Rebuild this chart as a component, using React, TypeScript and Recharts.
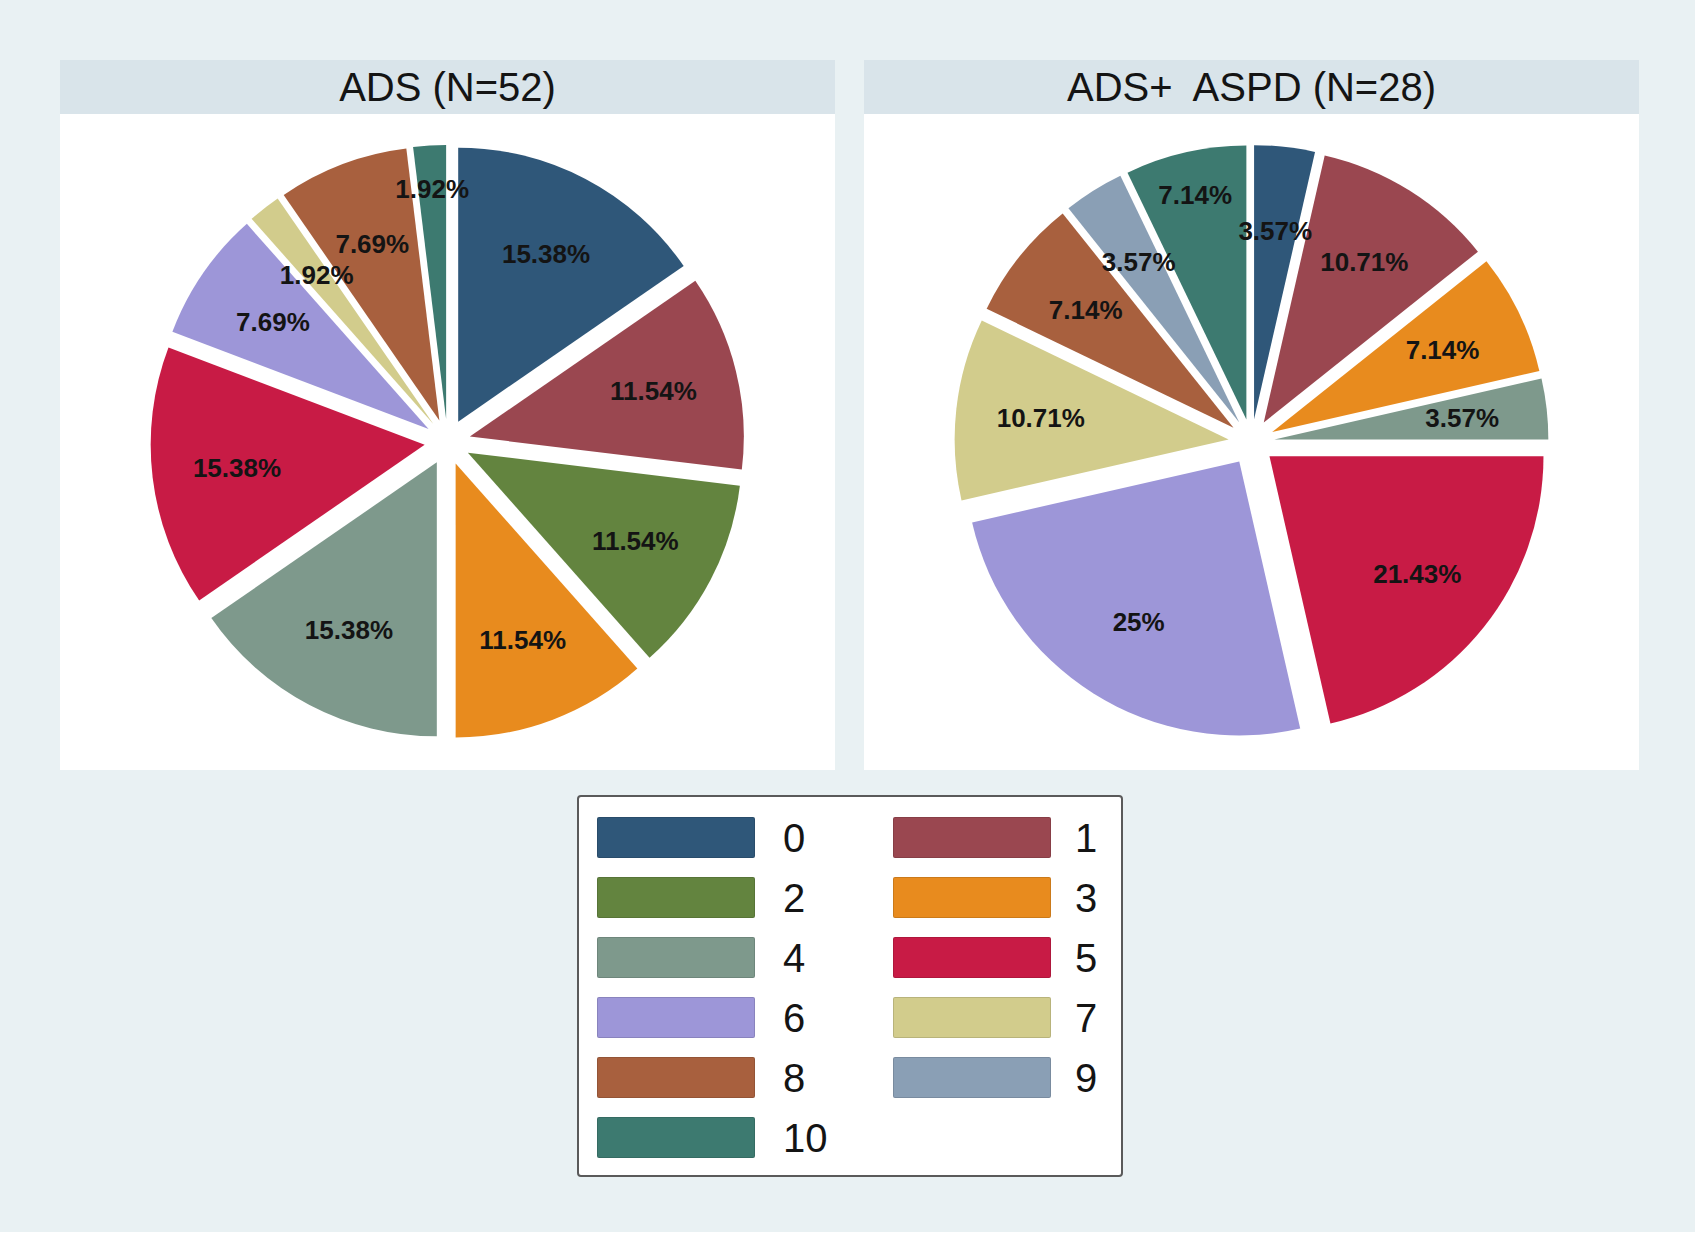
import { Pie, PieChart, Sector } from 'recharts';

const categories = ['0', '1', '2', '3', '4', '5', '6', '7', '8', '9', '10'];
const sliceColors = [
  '#2f5779',
  '#9a4750',
  '#63843f',
  '#e88b1e',
  '#7e998c',
  '#c81b45',
  '#9d96d8',
  '#d2cc8c',
  '#a8603e',
  '#8a9fb5',
  '#3d7a70',
];

const adsCounts = [8, 6, 6, 6, 8, 8, 4, 1, 4, 0, 1];
const adsAspdCounts = [1, 3, 0, 2, 1, 6, 7, 3, 2, 1, 2];

const panelTitles = ['ADS (N=52)', 'ADS+  ASPD (N=28)'];

const RADIAN = Math.PI / 180;
const EXPLODE = 23;
const RADIUS = 274;

const palette = {
  page: '#e9f1f3',
  header: '#d9e4ea',
  plot: '#ffffff',
  text: '#141414',
  legendBorder: '#5a5a5a',
};

const buildSlices = (counts: number[]) => {
  const total = counts.reduce((sum, n) => sum + n, 0);
  return counts
    .map((count, i) => ({
      name: categories[i],
      value: count,
      fill: sliceColors[i],
      pct: `${parseFloat(((count / total) * 100).toFixed(2))}%`,
    }))
    .filter((d) => d.value > 0);
};

const explodedSlice = (props: any) => {
  const { cx, cy, midAngle } = props;
  const dx = EXPLODE * Math.cos(-midAngle * RADIAN);
  const dy = EXPLODE * Math.sin(-midAngle * RADIAN);
  return <Sector {...props} cx={cx + dx} cy={cy + dy} stroke="none" />;
};

const makePctLabel = (lastIndex: number) => (props: any) => {
  const { cx, cy, midAngle, outerRadius, payload, index } = props;
  // the closing slice gets its label pushed further out, like the original
  const r = EXPLODE + outerRadius * (index === lastIndex ? 0.84 : 0.69);
  const x = cx + r * Math.cos(-midAngle * RADIAN);
  const y = cy + r * Math.sin(-midAngle * RADIAN);
  return (
    <text
      x={x}
      y={y}
      fill={palette.text}
      fontSize={26}
      fontWeight="bold"
      fontFamily="'Liberation Sans', Arial, sans-serif"
      textAnchor="middle"
      dominantBaseline="central"
    >
      {payload.pct}
    </text>
  );
};

function PiePanel({ title, counts, left }: { title: string; counts: number[]; left: number }) {
  const slices = buildSlices(counts);

  return (
    <div style={{ position: 'absolute', left, top: 60, width: 775 }}>
      <div
        style={{
          height: 54,
          background: palette.header,
          display: 'flex',
          alignItems: 'center',
          justifyContent: 'center',
          fontSize: 40,
          whiteSpace: 'pre',
          color: palette.text,
        }}
      >
        {title}
      </div>
      <div style={{ background: palette.plot, height: 656 }}>
        <PieChart width={775} height={656} margin={{ top: 0, right: 0, bottom: 0, left: 0 }}>
          <Pie
            data={slices}
            dataKey="value"
            nameKey="name"
            cx="50%"
            cy="50%"
            outerRadius={RADIUS}
            startAngle={90}
            endAngle={-270}
            stroke="none"
            shape={explodedSlice}
            label={makePctLabel(slices.length - 1)}
            labelLine={false}
            isAnimationActive={false}
          />
        </PieChart>
      </div>
    </div>
  );
}

function LegendBox() {
  return (
    <div
      style={{
        position: 'absolute',
        left: 577,
        top: 795,
        width: 546,
        height: 382,
        boxSizing: 'border-box',
        background: '#ffffff',
        border: `2px solid ${palette.legendBorder}`,
        borderRadius: 4,
      }}
    >
      {categories.map((cat, i) => {
        const col = i % 2;
        const row = Math.floor(i / 2);
        return (
          <div
            key={cat}
            style={{
              position: 'absolute',
              left: col === 0 ? 18 : 314,
              top: 20 + row * 60,
              display: 'flex',
              alignItems: 'center',
              height: 41,
            }}
          >
            <div
              style={{
                width: 158,
                height: 41,
                background: sliceColors[i],
                boxSizing: 'border-box',
                border: '1px solid rgba(0,0,0,0.12)',
                borderRadius: 2,
              }}
            />
            <span style={{ marginLeft: col === 0 ? 28 : 24, fontSize: 40, color: palette.text, lineHeight: 1 }}>
              {cat}
            </span>
          </div>
        );
      })}
    </div>
  );
}

export default function App() {
  return (
    <div
      style={{
        position: 'relative',
        width: 1701,
        height: 1239,
        background: '#ffffff',
        fontFamily: "'Liberation Sans', Arial, sans-serif",
        overflow: 'hidden',
      }}
    >
      <style>{'body { margin: 0; }'}</style>
      <div style={{ position: 'absolute', left: 0, top: 0, width: 1695, height: 1232, background: palette.page }} />
      <PiePanel title={panelTitles[0]} counts={adsCounts} left={60} />
      <PiePanel title={panelTitles[1]} counts={adsAspdCounts} left={864} />
      <LegendBox />
    </div>
  );
}
